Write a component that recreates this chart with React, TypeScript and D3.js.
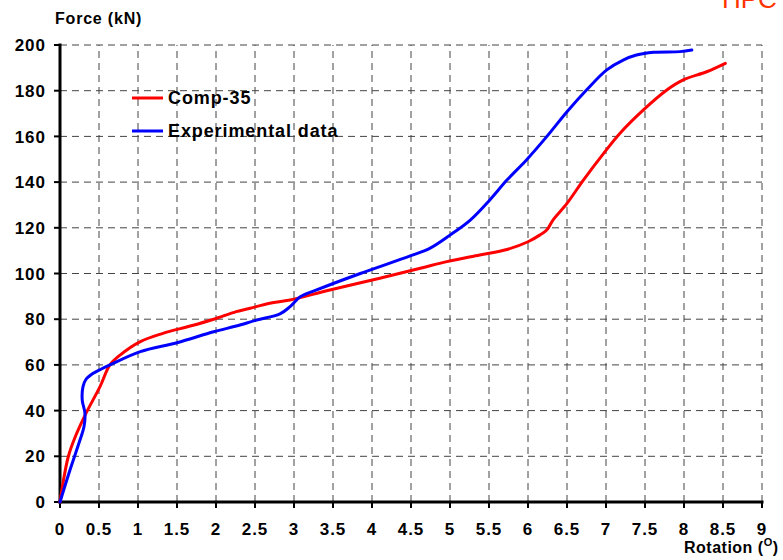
import React from "react";
import * as d3 from "d3";

const xTicks = [0, 0.5, 1, 1.5, 2, 2.5, 3, 3.5, 4, 4.5, 5, 5.5, 6, 6.5, 7, 7.5, 8, 8.5, 9];
const yTicks = [0, 20, 40, 60, 80, 100, 120, 140, 160, 180, 200];

const compRot = [0, 0.106, 0.205, 0.333, 0.513, 0.64, 0.77, 1.03, 1.32, 1.67, 1.97, 2.26, 2.44, 2.69, 2.95, 3.46, 4.1, 4.62, 4.96, 5.38, 5.73, 6.0, 6.15, 6.24, 6.32, 6.5, 6.71, 6.97, 7.18, 7.48, 7.78, 7.99, 8.29, 8.53];
const compForce = [0, 19.8, 29.3, 38.8, 50.5, 60, 64.3, 70.2, 73.8, 77, 80, 83.3, 84.8, 87, 88.4, 92.8, 97.9, 102.3, 105.2, 108.1, 110.5, 113.9, 116.8, 119, 123.4, 130.7, 140.9, 152.6, 161.4, 171.6, 180.3, 184.7, 188.3, 192];

const expRot = [0, 0.128, 0.256, 0.308, 0.32, 0.285, 0.295, 0.33, 0.42, 0.53, 0.64, 1.03, 1.5, 1.97, 2.26, 2.52, 2.82, 2.95, 3.08, 3.29, 3.85, 4.49, 4.74, 5.0, 5.26, 5.51, 5.73, 5.98, 6.24, 6.5, 6.75, 7.01, 7.22, 7.39, 7.61, 7.95, 8.1];
const expForce = [0, 14, 27.1, 33, 38.8, 44.6, 50.5, 53.5, 56.2, 58.2, 60, 65.8, 69.7, 74.5, 77, 79.6, 82.3, 85.5, 89.8, 92.8, 100, 107.7, 111, 116.8, 123.4, 132.2, 140.9, 149.7, 159.9, 170.8, 180.3, 189.1, 193.4, 195.6, 196.8, 197.1, 197.8];

const seriesNames = ["Comp-35", "Experimental data"];
const seriesColors = ["#ff0000", "#0000ff"];

export default function App() {
  const W = 783, H = 560;
  const x = d3.scaleLinear().domain([0, 9]).range([60, 762]);
  const y = d3.scaleLinear().domain([0, 200]).range([502, 45]);
  const line = d3
    .line<[number, number]>()
    .x((d) => x(d[0]))
    .y((d) => y(d[1]))
    .curve(d3.curveCatmullRom.alpha(0.5));
  const comp: [number, number][] = compRot.map((r, i) => [r, compForce[i]]);
  const exp: [number, number][] = expRot.map((r, i) => [r, expForce[i]]);
  const font = "'Liberation Sans', Arial, Helvetica, sans-serif";

  return (
    <svg
      width={W}
      height={H}
      style={{ position: "absolute", left: 0, top: 0, background: "#fff" }}
      fontFamily={font}
    >
      <rect width={W} height={H} fill="#fff" />
      <text x={722} y={8} fontSize={26} fill="#ff3300" fontFamily={font}>
        HPC
      </text>
      {/* grid */}
      {xTicks.slice(1).map((t) => (
        <line
          key={"gx" + t}
          x1={x(t)}
          x2={x(t)}
          y1={y(0)}
          y2={y(200)}
          stroke="#444"
          strokeWidth={1}
          strokeDasharray="7,5"
        />
      ))}
      {yTicks.slice(1).map((t) => (
        <line
          key={"gy" + t}
          x1={x(0)}
          x2={x(9)}
          y1={y(t)}
          y2={y(t)}
          stroke="#444"
          strokeWidth={1}
          strokeDasharray="7,5"
        />
      ))}
      {/* axes */}
      <line x1={x(0)} x2={x(0)} y1={y(0) + 1.5} y2={y(200) - 1.5} stroke="#000" strokeWidth={3} />
      <line x1={x(0) - 1.5} x2={x(9) + 1.5} y1={y(0)} y2={y(0)} stroke="#000" strokeWidth={3} />
      {yTicks.map((t) => (
        <g key={"yt" + t}>
          <line x1={x(0) - 6} x2={x(0)} y1={y(t)} y2={y(t)} stroke="#000" strokeWidth={2} />
          <text
            x={46}
            y={y(t)}
            dy="0.36em"
            textAnchor="end"
            fontSize={17}
            letterSpacing={1}
            fontWeight="bold"
          >
            {t}
          </text>
        </g>
      ))}
      {xTicks.map((t) => (
        <g key={"xt" + t}>
          <line x1={x(t)} x2={x(t)} y1={y(0)} y2={y(0) + 6} stroke="#000" strokeWidth={2} />
          <text x={x(t)} y={535} textAnchor="middle" fontSize={17} letterSpacing={1} fontWeight="bold">
            {t}
          </text>
        </g>
      ))}
      <text x={55} y={24} fontSize={16} letterSpacing={0.8} fontWeight="bold">
        Force (kN)
      </text>
      <text x={684} y={553} fontSize={16} letterSpacing={0.5} fontWeight="bold">
        Rotation (
        <tspan dy={-7} fontSize={11}>
          O
        </tspan>
        <tspan dy={7}>)</tspan>
      </text>
      {/* curves */}
      <path d={line(comp) || ""} fill="none" stroke={seriesColors[0]} strokeWidth={3} strokeLinejoin="round" strokeLinecap="round" />
      <path d={line(exp) || ""} fill="none" stroke={seriesColors[1]} strokeWidth={3} strokeLinejoin="round" strokeLinecap="round" />
      {/* legend */}
      {seriesNames.map((n, i) => (
        <g key={n} transform={`translate(132, ${98 + i * 33})`}>
          <line x1={0} x2={31} y1={0} y2={0} stroke={seriesColors[i]} strokeWidth={3} />
          <text x={36} y={0} dy="0.36em" fontSize={18} letterSpacing={0.9} fontWeight="bold">
            {n}
          </text>
        </g>
      ))}
    </svg>
  );
}
